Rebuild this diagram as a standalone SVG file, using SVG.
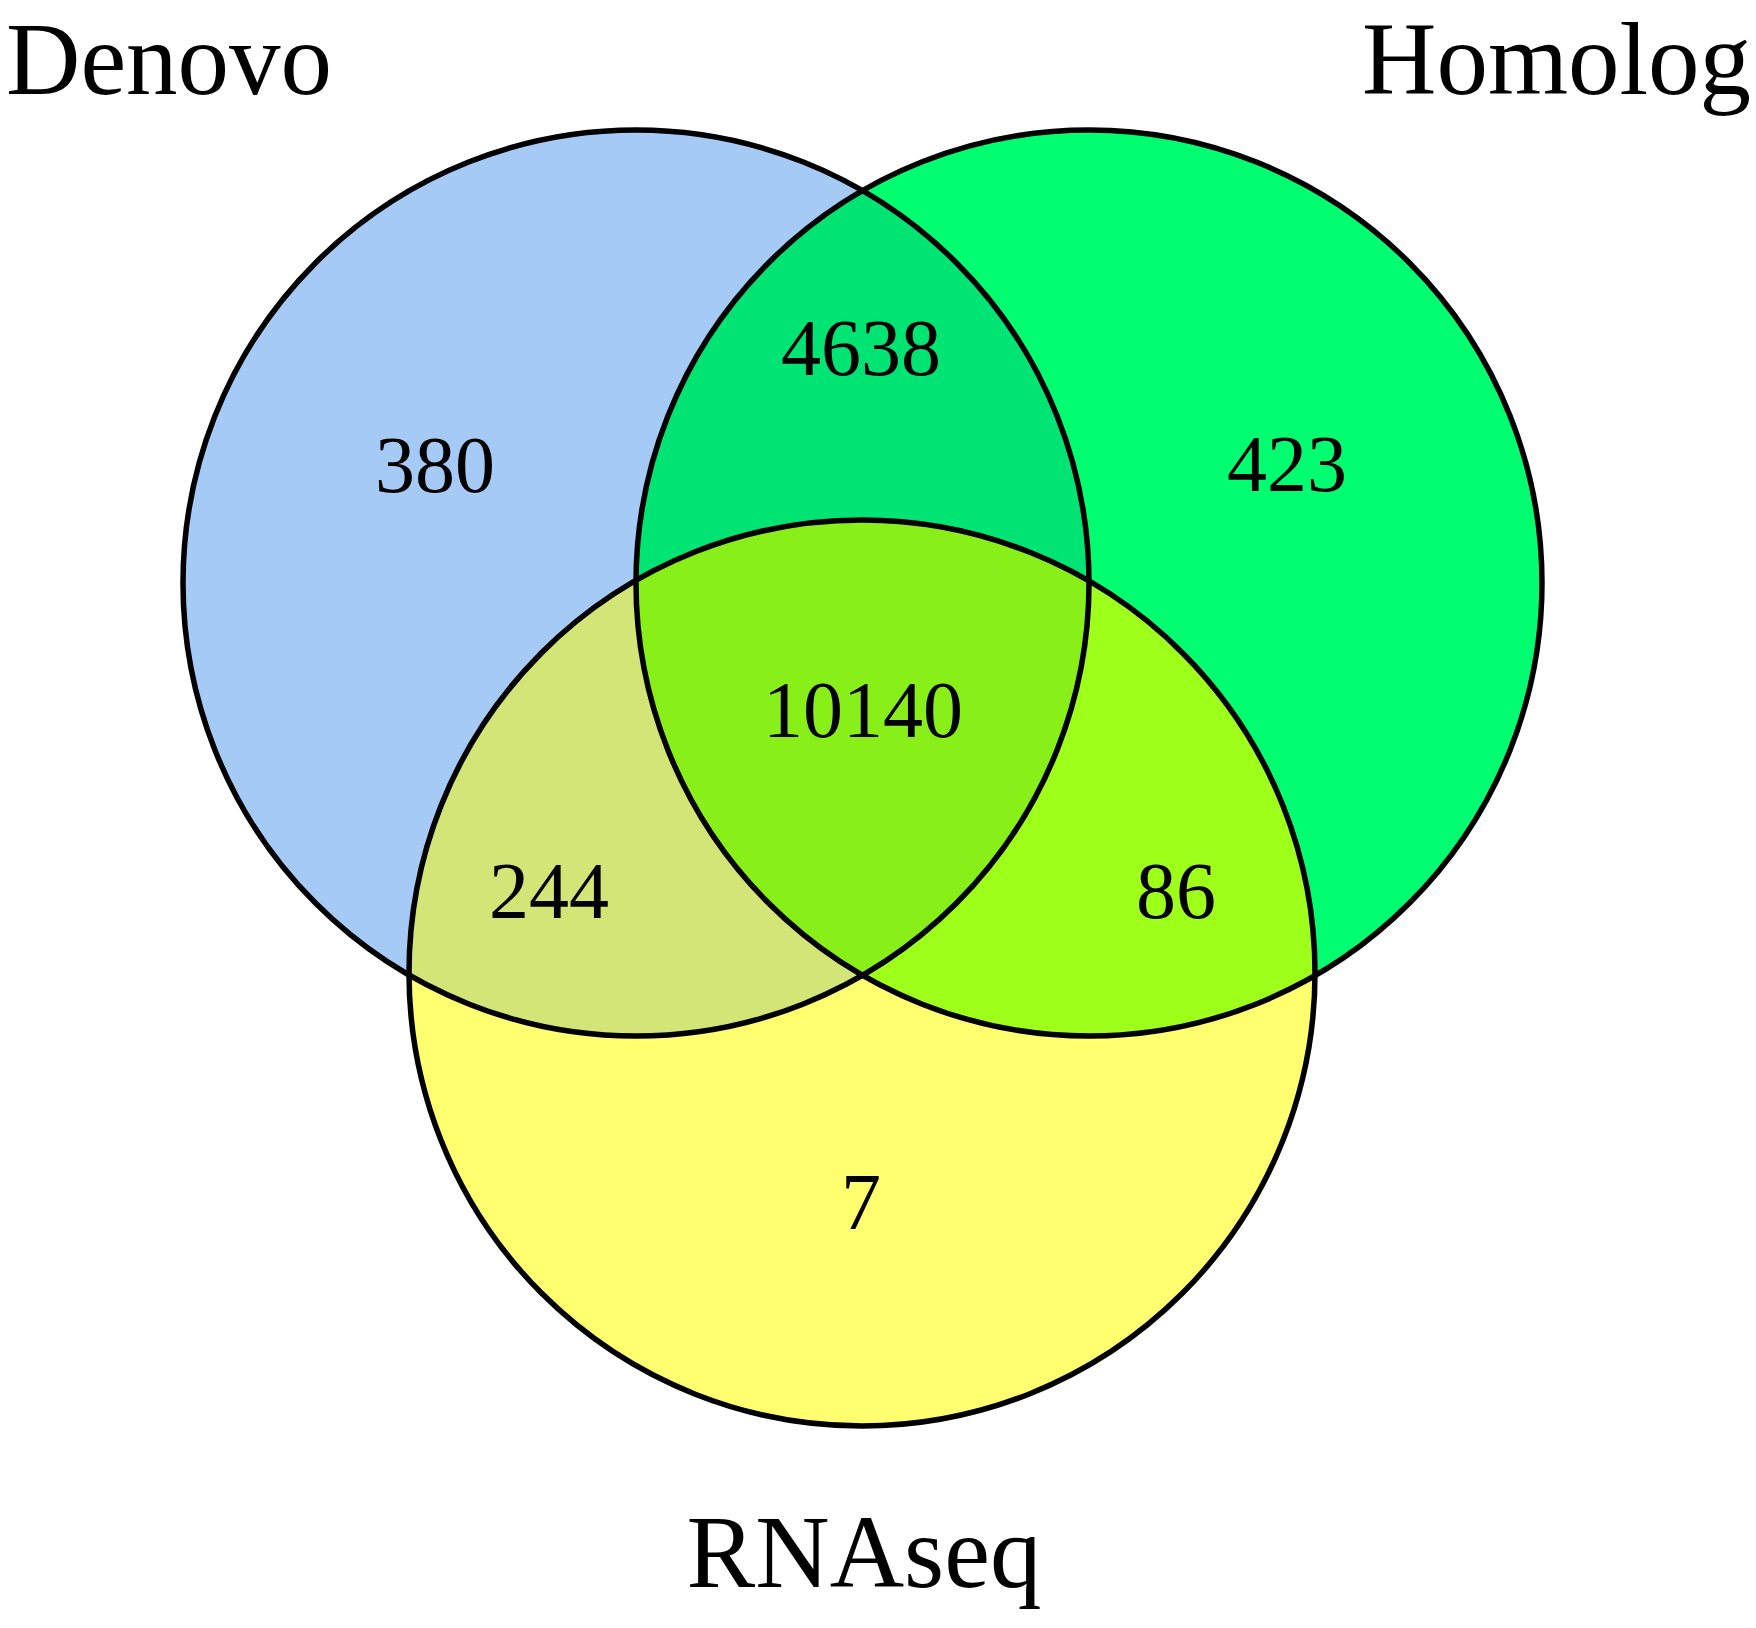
<svg xmlns="http://www.w3.org/2000/svg" width="1756" height="1628" viewBox="0 0 1756 1628">
  <style>
    .outline { fill: none; stroke: #000; stroke-width: 5.5; }
    .num { font-family: "Liberation Serif", "Times New Roman", serif; font-size: 80px; fill: #000; text-anchor: middle; }
    .lbl { font-family: "Liberation Serif", "Times New Roman", serif; font-size: 103px; fill: #000; }
  </style>
  <defs>
    <clipPath id="clipA"><circle cx="636" cy="583" r="453"/></clipPath>
    <clipPath id="clipB"><circle cx="1089" cy="583" r="453"/></clipPath>
  </defs>
  <rect width="1756" height="1628" fill="#fff"/>
  <g id="fills">
    <circle cx="636" cy="583" r="453" fill="#A6CAF6"/>
    <circle cx="1089" cy="583" r="453" fill="#00FF70"/>
    <circle cx="862" cy="973" r="453" fill="#FFFF70"/>
    <circle cx="1089" cy="583" r="453" fill="#00E474" clip-path="url(#clipA)"/>
    <circle cx="862" cy="973" r="453" fill="#D4E578" clip-path="url(#clipA)"/>
    <circle cx="862" cy="973" r="453" fill="#9EFF1A" clip-path="url(#clipB)"/>
    <g clip-path="url(#clipA)">
      <circle cx="862" cy="973" r="453" fill="#88F018" clip-path="url(#clipB)"/>
    </g>
  </g>
  <g id="denovo">
    <circle class="outline" cx="636" cy="583" r="453"/>
    <text class="lbl" x="6" y="94">Denovo</text>
  </g>
  <g id="homolog">
    <circle class="outline" cx="1089" cy="583" r="453"/>
    <text class="lbl" x="1362" y="94">Homolog</text>
  </g>
  <g id="rnaseq">
    <circle class="outline" cx="862" cy="973" r="453"/>
    <text class="lbl" x="864" y="1587" text-anchor="middle">RNAseq</text>
  </g>
  <g id="counts">
    <text class="num" x="435" y="492">380</text>
    <text class="num" x="1287" y="491">423</text>
    <text class="num" x="861" y="375">4638</text>
    <text class="num" x="863" y="737">10140</text>
    <text class="num" x="549" y="918">244</text>
    <text class="num" x="1176" y="918">86</text>
    <text class="num" x="861" y="1229">7</text>
  </g>
  <g id="connectors"/>
</svg>
